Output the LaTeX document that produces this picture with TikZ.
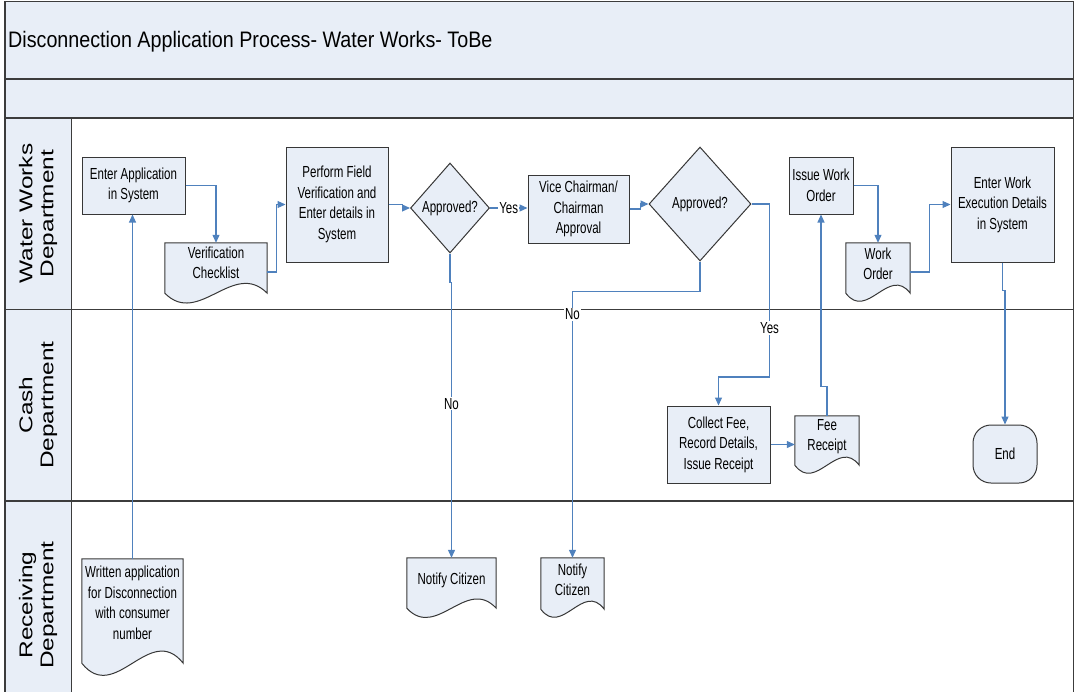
\documentclass[tikz,border=0pt]{standalone}
\usepackage{fontspec}
\setmainfont{Liberation Sans}
\newfontfamily\boxfont[FakeStretch=0.72]{Liberation Sans}
\newfontfamily\titlefont[FakeStretch=0.88]{Liberation Sans}
\newfontfamily\lanefont[FakeStretch=1.32]{Liberation Sans}
\usetikzlibrary{arrows.meta,shapes.geometric,calc}
\pgfdeclarelayer{background}
\pgfsetlayers{background,main}

\definecolor{shapefill}{RGB}{232,238,247}
\definecolor{linkblue}{RGB}{79,129,189}
\definecolor{frameline}{RGB}{60,60,60}
\definecolor{shapeline}{RGB}{55,55,55}

\tikzset{
  every node/.style={font=\boxfont\fontsize{16}{20.5}\selectfont},
  procbox/.style={draw=shapeline, fill=shapefill, line width=1pt, align=center, inner sep=0pt},
  docnode/.style={align=center, inner sep=0pt},
  decision/.style={diamond, draw=shapeline, fill=shapefill, line width=1pt, inner sep=0pt, align=center},
  terminal/.style={draw=shapeline, fill=shapefill, line width=1pt, rounded corners=18pt, inner sep=0pt},
  conn/.style={draw=linkblue, line width=1.1pt, -{Triangle[length=8pt,width=7pt]}},
  lbl/.style={fill=white, inner sep=1pt},
  lanetext/.style={rotate=90, align=center, font=\lanefont\fontsize{18.5}{21}\selectfont},
  frame/.style={draw=frameline, line width=1.6pt},
}

% Document symbol: box with a wavy lower edge.
% #1 node name, #2 wave amplitude, #3 drop of the wave ends below the node
\newcommand{\docoutline}[3]{%
  \begin{pgfonlayer}{background}
    \filldraw[fill=shapefill, draw=shapeline, line width=1pt]
      (#1.north west) -- (#1.north east) -- ($(#1.south east)+(0,#3)$)
      .. controls ($(#1.south east)!0.33!(#1.south west)+(0,#3-#2)$)
         and ($(#1.south east)!0.67!(#1.south west)+(0,#3+#2)$) ..
      ($(#1.south west)+(0,#3)$) -- cycle;
  \end{pgfonlayer}}

\begin{document}
\begin{tikzpicture}[x=1pt, y=-1pt]
\useasboundingbox (0,0) rectangle (1075,691);

% swimlane frame
\fill[shapefill] (5,1.5) rectangle (1073.5,118);
\fill[shapefill] (5,118) rectangle (71.5,700);
\draw[frame] (5,1.5) rectangle (1073.5,700);
\draw[frame] (5,79) -- (1073.5,79);
\draw[frame] (5,118) -- (1073.5,118);
\draw[frame] (71.5,118) -- (71.5,700);
\draw[frame] (5,309.5) -- (1073.5,309.5);
\draw[frame] (5,501) -- (1073.5,501);

\node[anchor=base west, inner sep=0pt, font=\titlefont\fontsize{22.4}{26}\selectfont] (title) at (8,47)
  {Disconnection Application Process- Water Works- ToBe};

\node[lanetext] (lane1) at (38,213.5) {Water Works\\Department};
\node[lanetext] (lane2) at (38,405) {Cash\\Department};
\node[lanetext] (lane3) at (38,605) {Receiving\\Department};

% Water Works Department
\node[procbox, minimum width=103pt, minimum height=57pt] (ea) at (133.5,185.5) {Enter Application\\in System};
\node[docnode, minimum width=102pt, minimum height=40pt] (vc) at (216,263) {Verification\\Checklist};
\node[procbox, minimum width=102pt, minimum height=115pt] (pf) at (337,204.5) {Perform Field\\Verification and\\Enter details in\\System};
\node[decision, minimum width=79pt, minimum height=90pt] (d1) at (450,208) {Approved?};
\node[procbox, minimum width=101pt, minimum height=68pt] (vca) at (578.5,209) {Vice Chairman/\\Chairman\\Approval};
\node[decision, minimum width=102pt, minimum height=114pt] (d2) at (700,204) {Approved?};
\node[procbox, minimum width=64pt, minimum height=57pt] (iwo) at (821,185.5) {Issue Work\\Order};
\node[docnode, minimum width=64pt, minimum height=42pt] (wo) at (878,264) {Work\\Order};
\node[procbox, minimum width=103pt, minimum height=115pt] (exe) at (1002.5,204.5) {Enter Work\\Execution Details\\in System};

% Cash Department
\node[procbox, minimum width=103pt, minimum height=77pt] (cf) at (718.5,444.5) {Collect Fee,\\Record Details,\\Issue Receipt};
\node[docnode, minimum width=64pt, minimum height=41pt] (fr) at (827,436.5) {Fee\\Receipt};
\node[terminal, minimum width=64pt, minimum height=58pt] (endn) at (1005,454) {End};

% Receiving Department
\node[docnode, minimum width=101pt, minimum height=88pt] (wa) at (132.5,603) {Written application\\for Disconnection\\with consumer\\number};
\node[docnode, minimum width=89pt, minimum height=44pt] (n1) at (451.5,580) {Notify Citizen};
\node[docnode, minimum width=63pt, minimum height=44pt] (n2) at (572.5,580) {Notify\\Citizen};

\docoutline{vc}{34}{10}
\docoutline{wo}{28}{8}
\docoutline{fr}{28}{8}
\docoutline{wa}{42}{16}
\docoutline{n1}{32}{6}
\docoutline{n2}{28}{7}

% flow
\draw[conn] (wa.north) -- (wa.north |- ea.south);
\draw[conn] (ea.east) -| (vc.north);
\draw[conn] ([yshift=-9pt]vc.east) -- ++(9,0) |- (pf.west);
\draw[conn] (pf.east) -- ++(14,0) |- (d1.west);
\draw[conn] (d1.east) -- node[lbl]{Yes} (d1.east -| vca.west);
\draw[conn] (d1.south) -- ++(0,29) -| node[lbl,pos=0.72]{No} (n1.north);
\draw[conn] (vca.east) -- ++(11,0) |- (d2.west);
\draw[conn] (d2.south) -- ++(0,30) -| node[lbl,pos=0.543]{No} (n2.north);
\draw[conn] (d2.east) -- ++(18,0) -- node[lbl,pos=0.717]{Yes} ++(0,173) -| (cf.north);
\draw[conn] (cf.east) -- (cf.east -| fr.west);
\draw[conn] (fr.north) -- ++(0,-29) -| (iwo.south);
\draw[conn] (iwo.east) -| (wo.north);
\draw[conn] ([yshift=-8pt]wo.east) -- ++(19,0) |- (exe.west);
\draw[conn] (exe.south) -- ++(0,28) -| (endn.north);
\end{tikzpicture}
\end{document}
